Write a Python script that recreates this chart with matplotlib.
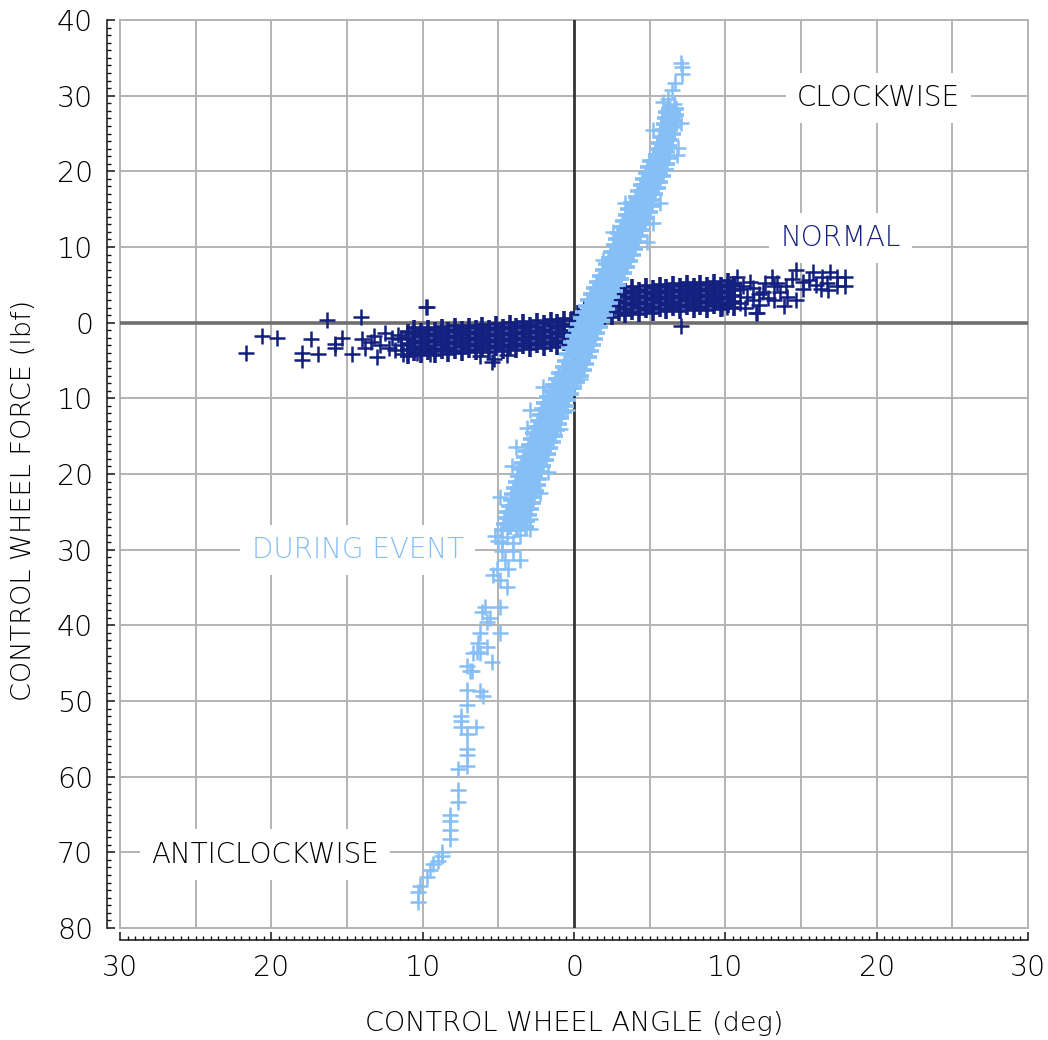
import matplotlib
matplotlib.use('Agg')
import matplotlib.pyplot as plt
from matplotlib.ticker import MultipleLocator, FuncFormatter

# ---------------- data ----------------
# "DURING EVENT" series: dense band, listed as rows of force with two angle readings per row
blue_f = [-27.4, -27.0, -26.6, -26.2, -25.8, -25.4, -25.0, -24.6, -24.2, -23.8,
          -23.4, -23.0, -22.6, -22.2, -21.8, -21.4, -21.0, -20.6, -20.2, -19.8,
          -19.4, -19.0, -18.6, -18.2, -17.8, -17.4, -17.0, -16.6, -16.2, -15.8,
          -15.4, -15.0, -14.6, -14.2, -13.8, -13.4, -13.0, -12.6, -12.2, -11.8,
          -11.4, -11.0, -10.6, -10.2, -9.8, -9.4, -9.0, -8.6, -8.2, -7.8,
          -7.4, -7.0, -6.6, -6.2, -5.8, -5.4, -5.0, -4.6, -4.2, -3.8,
          -3.4, -3.0, -2.6, -2.2, -1.8, -1.4, -1.0, -0.6, -0.2, 0.2,
          0.6, 1.0, 1.4, 1.8, 2.2, 2.6, 3.0, 3.4, 3.8, 4.2,
          4.6, 5.0, 5.4, 5.8, 6.2, 6.6, 7.0, 7.4, 7.8, 8.2,
          8.6, 9.0, 9.4, 9.8, 10.2, 10.6, 11.0, 11.4, 11.8, 12.2,
          12.6, 13.0, 13.4, 13.8, 14.2, 14.6, 15.0, 15.4, 15.8, 16.2,
          16.6, 17.0, 17.4, 17.8, 18.2, 18.6, 19.0, 19.4, 19.8, 20.2,
          20.6, 21.0, 21.4, 21.8, 22.2, 22.6, 23.0, 23.4, 23.8, 24.2,
          24.6, 25.0, 25.4, 25.8, 26.2, 26.6, 27.0, 27.4, 27.8, 28.2]
blue_xl = [-4.76, -4.20, -4.64, -4.09, -4.53, -3.97, -4.41, -3.86, -4.30, -3.74,
           -4.19, -3.63, -4.07, -3.51, -3.96, -3.40, -3.84, -3.29, -3.73, -3.16,
           -3.59, -3.02, -3.44, -2.87, -3.29, -2.72, -3.15, -2.57, -3.00, -2.42,
           -2.85, -2.28, -2.70, -2.13, -2.55, -1.98, -2.41, -1.83, -2.26, -1.68,
           -2.11, -1.54, -1.96, -1.39, -1.80, -1.19, -1.59, -0.98, -1.38, -0.77,
           -1.17, -0.56, -0.96, -0.35, -0.75, -0.18, -0.61, -0.04, -0.47, 0.11,
           -0.32, 0.25, -0.18, 0.39, -0.04, 0.53, 0.11, 0.70, 0.28, 0.86,
           0.45, 1.03, 0.61, 1.19, 0.78, 1.36, 0.94, 1.53, 1.11, 1.70,
           1.30, 1.91, 1.51, 2.11, 1.71, 2.32, 1.92, 2.52, 2.12, 2.72,
           2.31, 2.89, 2.47, 3.05, 2.62, 3.20, 2.78, 3.36, 2.94, 3.52,
           3.10, 3.68, 3.25, 3.83, 3.41, 3.99, 3.57, 4.16, 3.75, 4.38,
           4.07, 4.56, 4.24, 4.73, 4.42, 4.90, 4.59, 5.08, 4.76, 5.25,
           4.91, 5.37, 5.03, 5.49, 5.40, 5.69, 5.52, 5.81, 5.64, 5.93,
           5.76, 6.05, 5.88, 6.17, 5.97, 6.22, 6.01, 6.26, 6.05, 6.30]
blue_xr = [-3.76, -3.20, -3.64, -3.09, -3.53, -2.97, -3.41, -2.86, -3.30, -2.74,
           -3.19, -2.63, -3.07, -2.51, -2.96, -2.40, -2.84, -2.29, -2.73, -2.16,
           -2.59, -2.02, -2.44, -1.87, -2.29, -1.72, -2.15, -1.57, -2.00, -1.42,
           -1.85, -1.28, -1.70, -1.13, -1.55, -0.98, -1.41, -0.83, -1.26, -0.68,
           -1.11, -0.54, -0.96, -0.39, -0.80, -0.19, -0.59, 0.02, -0.38, 0.23,
           -0.17, 0.44, 0.04, 0.65, 0.25, 0.82, 0.39, 0.96, 0.53, 1.11,
           0.68, 1.25, 0.82, 1.39, 0.96, 1.53, 1.11, 1.70, 1.28, 1.86,
           1.45, 2.03, 1.61, 2.19, 1.78, 2.36, 1.94, 2.53, 2.11, 2.70,
           2.30, 2.91, 2.51, 3.11, 2.71, 3.32, 2.92, 3.52, 3.12, 3.72,
           3.31, 3.89, 3.47, 4.05, 3.62, 4.20, 3.78, 4.36, 3.94, 4.52,
           4.10, 4.68, 4.25, 4.83, 4.41, 4.99, 4.57, 5.16, 4.75, 5.18,
           4.87, 5.36, 5.04, 5.53, 5.22, 5.70, 5.39, 5.88, 5.56, 6.05,
           5.71, 6.17, 5.83, 6.29, 5.87, 6.16, 5.99, 6.28, 6.11, 6.40,
           6.23, 6.52, 6.35, 6.64, 6.44, 6.69, 6.48, 6.73, 6.52, 6.77]
# "DURING EVENT" scattered points (tails and edge outliers)
blue_sx = [-5.2, -4.4, -3.6, -5.0, -4.76, -4.03, -4.76, -4.03, -4.56, -3.57,
           -5.09, -4.36, -5.35, -4.9, -4.43, -4.9, -5.88, -6.08, -5.55, -5.75,
           -4.9, -6.2, -6.35, -5.75, -6.67, -6.2, -5.42, -7.07, -6.74, -6.9,
           -6.4, -7.07, -6.2, -6.0, -7.07, -7.5, -7.5, -7.5, -6.5, -7.07,
           -7.07, -7.07, -7.07, -7.67, -7.67, -7.67, -8.2, -8.2, -8.2, -8.2,
           -8.72, -8.72, -9.0, -9.3, -9.5, -9.7, -10.2, -10.3, -10.3,
           7.1, 7.14, 7.14, 6.7, 6.5, 6.2, 5.9, 6.6, 7.1, 6.9,
           6.8, 5.7, 5.2, 4.8, 2.6, 1.9, 3.4, 5.2,
           -2.05, -2.9, -3.1, -3.8, -4.1, -4.9, 0.4, -0.46, -0.9, -1.7,
           -2.25, -2.9, -2.9]
blue_sf = [-28.2, -28.3, -28.0, -28.8, -29.1, -29.1, -30.2, -30.2, -31.3, -31.3,
           -32.6, -32.6, -33.3, -34.0, -34.9, -37.6, -37.6, -38.3, -39.0, -39.6,
           -41.0, -41.0, -42.3, -42.8, -43.6, -43.6, -44.8, -45.4, -46.1, -46.1,
           -43.5, -48.5, -48.7, -49.4, -50.5, -52.0, -52.7, -53.4, -53.4, -54.4,
           -56.4, -57.1, -58.6, -59.0, -61.7, -63.3, -65.0, -65.9, -67.0, -68.3,
           -69.9, -70.5, -71.2, -71.6, -72.3, -73.3, -74.5, -75.3, -76.6,
           34.3, 33.8, 32.8, 31.7, 30.8, 29.5, 29.1, 28.9, 26.4, 23.1,
           22.2, 15.8, 13.2, 10.7, 12.0, 8.3, 15.8, 25.5,
           -8.5, -11.5, -13.9, -16.4, -19.0, -23.0, -7.5, -11.5, -14.1, -19.7,
           -22.5, -27.3, -26.0]

# "NORMAL" series: dense band, listed as columns of angle with five force readings each
navy_x = [-11.00, -10.55, -10.10, -9.65, -9.20, -8.75, -8.30, -7.85, -7.40, -6.95,
          -6.50, -6.05, -5.60, -5.15, -4.70, -4.25, -3.80, -3.35, -2.90, -2.45,
          -2.00, -1.55, -1.10, -0.65, -0.20, 0.25, 0.70, 1.15, 1.60, 2.05,
          2.50, 2.95, 3.40, 3.85, 4.30, 4.75, 5.20, 5.65, 6.10, 6.55,
          7.00, 7.45, 7.90, 8.35, 8.80, 9.25, 9.70, 10.15, 10.60]
navy_f1 = [-4.40, -3.96, -4.31, -3.87, -4.22, -3.77, -4.13, -3.68, -4.04, -3.59,
           -3.94, -3.50, -3.85, -3.41, -3.74, -3.26, -3.59, -3.12, -3.45, -2.98,
           -3.31, -2.84, -3.16, -2.68, -2.89, -1.98, -1.61, -0.44, -0.08, 1.02,
           0.75, 1.29, 0.98, 1.47, 1.16, 1.65, 1.33, 1.82, 1.51, 1.97,
           1.60, 2.04, 1.67, 2.10, 1.74, 2.17, 1.81, 2.29, 1.97]
navy_f2 = [-3.60, -3.16, -3.51, -3.07, -3.42, -2.97, -3.33, -2.88, -3.24, -2.79,
           -3.14, -2.70, -3.05, -2.61, -2.94, -2.46, -2.79, -2.32, -2.65, -2.18,
           -2.51, -2.04, -2.36, -1.88, -2.09, -1.18, -0.81, 0.36, 0.72, 1.82,
           1.55, 2.09, 1.78, 2.27, 1.96, 2.45, 2.13, 2.62, 2.31, 2.77,
           2.40, 2.84, 2.47, 2.90, 2.54, 2.97, 2.61, 3.09, 2.77]
navy_f3 = [-2.80, -2.36, -2.71, -2.27, -2.62, -2.17, -2.53, -2.08, -2.44, -1.99,
           -2.34, -1.90, -2.25, -1.81, -2.14, -1.66, -1.99, -1.52, -1.85, -1.38,
           -1.71, -1.24, -1.56, -1.08, -1.29, -0.38, -0.01, 1.16, 1.52, 2.62,
           2.35, 2.89, 2.58, 3.07, 2.76, 3.25, 2.93, 3.42, 3.11, 3.57,
           3.20, 3.64, 3.27, 3.70, 3.34, 3.77, 3.41, 3.89, 3.57]
navy_f4 = [-2.00, -1.56, -1.91, -1.47, -1.82, -1.37, -1.73, -1.28, -1.64, -1.19,
           -1.54, -1.10, -1.45, -1.01, -1.34, -0.86, -1.19, -0.72, -1.05, -0.58,
           -0.91, -0.44, -0.76, -0.28, -0.49, 0.42, 0.79, 1.96, 2.32, 3.42,
           3.15, 3.69, 3.38, 3.87, 3.56, 4.05, 3.73, 4.22, 3.91, 4.37,
           4.00, 4.44, 4.07, 4.50, 4.14, 4.57, 4.21, 4.69, 4.37]
navy_f5 = [-1.20, -0.76, -1.11, -0.67, -1.02, -0.57, -0.93, -0.48, -0.84, -0.39,
           -0.74, -0.30, -0.65, -0.21, -0.54, -0.06, -0.39, 0.08, -0.25, 0.22,
           -0.11, 0.36, 0.04, 0.52, 0.31, 1.22, 1.59, 2.76, 3.12, 4.22,
           3.95, 4.49, 4.18, 4.67, 4.36, 4.85, 4.53, 5.02, 4.71, 5.17,
           4.80, 5.24, 4.87, 5.30, 4.94, 5.37, 5.01, 5.49, 5.17]
# "NORMAL" scattered points (ends of the band and outliers)
navy_sx = [-21.7, -20.6, -19.6, -18.0, -18.0, -17.4, -16.9, -16.3, -15.8, -15.3,
           -14.1, -9.8, -15.8, -14.7, -14.0, -13.4, -13.0, -12.5, -12.2, -11.4,
           -11.3, -10.7, -10.4, -9.7, -9.5, -13.8, -13.2, -12.8, -12.0, -11.8,
           -11.6, -11.4, -5.4, -5.3, -4.4, -6.2,
           7.1, 12.0, 13.6, 13.1, 14.7, 15.1, 15.8, 16.4, 16.9, 17.4,
           17.9, 17.9, 17.4, 16.7, 16.3, 15.1, 14.7, 14.1, 13.2, 13.2,
           12.6, 12.5, 11.4, 11.2, 10.8, 11.6, 10.1, 9.8, 11.0, 11.0,
           11.8, 11.8, 12.2, 12.2, 12.8, 13.4, 14.0, 14.4, 15.5, 16.0,
           16.8, 12.1, 13.9, 11.3]
navy_sf = [-4.0, -1.8, -2.0, -4.0, -4.9, -2.1, -4.2, 0.3, -2.8, -2.0,
           0.7, 2.1, -3.3, -4.2, -2.2, -2.6, -4.6, -1.3, -3.3, -2.2,
           -4.2, -1.3, -4.0, 2.1, -4.2, -3.4, -1.8, -3.0, -2.0, -3.6,
           -1.6, -3.0, -5.2, -4.8, -4.3, -4.4,
           -0.4, 1.3, 4.0, 6.1, 7.0, 5.4, 6.7, 6.1, 6.7, 6.1,
           6.1, 4.8, 4.8, 5.3, 4.4, 4.4, 3.0, 3.4, 3.0, 4.8,
           5.3, 4.0, 3.4, 4.8, 6.1, 5.4, 2.1, 2.0, 2.6, 4.4,
           3.0, 4.6, 2.4, 3.8, 3.3, 5.2, 4.9, 5.8, 5.6, 5.0,
           4.3, 1.3, 2.2, 2.0]

x_ticks = [-30, -20, -10, 0, 10, 20, 30]
y_ticks = [-80, -70, -60, -50, -40, -30, -20, -10, 0, 10, 20, 30, 40]
annotations = [
    (20.1, 29.7, 'CLOCKWISE', '#000000'),
    (17.6, 11.2, 'NORMAL', '#13207f'),
    (-14.3, -30.0, 'DURING EVENT', '#86bff6'),
    (-20.4, -70.3, 'ANTICLOCKWISE', '#000000'),
]

# ---------------- figure ----------------
NAVY = '#13207f'
LIGHT = '#86bff6'
GRID = '#b3b3b3'
INK = '#000000'
plt.rcParams['font.family'] = ['DejaVu Sans']

W, H = 1048, 1040
fig = plt.figure(figsize=(W / 100, H / 100), dpi=100)
ax = fig.add_axes([120 / W, 1 - 928 / H, 908 / W, 908 / H])
ax.set_xlim(-30, 30)
ax.set_ylim(-80, 40)

for gx in range(-30, 31, 5):
    if gx != 0:
        ax.axvline(gx, color=GRID, lw=1.4, zorder=0.5, clip_on=False)
for gy in range(-80, 41, 10):
    if gy != 0:
        ax.axhline(gy, color=GRID, lw=1.4, zorder=0.5, clip_on=False)
ax.axhline(0, color='#6e6e6e', lw=2.6, zorder=1)
ax.axvline(0, color='#333333', lw=2.0, zorder=1)

for sp in ('top', 'right'):
    ax.spines[sp].set_visible(False)
ax.spines['left'].set_position(('outward', 9.4))
ax.spines['bottom'].set_position(('outward', 8.6))
for sp in ('left', 'bottom'):
    ax.spines[sp].set_color('#111111')
    ax.spines[sp].set_linewidth(1.1)

ax.set_xticks(x_ticks)
ax.set_yticks(y_ticks)
ax.xaxis.set_minor_locator(MultipleLocator(0.5))
ax.yaxis.set_minor_locator(MultipleLocator(1))
fmt = FuncFormatter(lambda v, p: f'{abs(v):.0f}')
ax.xaxis.set_major_formatter(fmt)
ax.yaxis.set_major_formatter(fmt)
ax.tick_params(which='major', direction='in', length=5.5, width=1.1,
               labelsize=20.5, pad=10, colors='#111111')
ax.tick_params(which='minor', direction='in', length=2.6, width=1.0, colors='#111111')
for lab in ax.get_xticklabels() + ax.get_yticklabels():
    lab.set_color(INK)
    lab.set_fontweight('light')

# data
dense = dict(linestyle='none', marker='+', markersize=12, markeredgewidth=2.6)
sparse = dict(linestyle='none', marker='+', markersize=12, markeredgewidth=1.8)
for fl in (navy_f1, navy_f2, navy_f3, navy_f4, navy_f5):
    ax.plot(navy_x, fl, color=NAVY, zorder=3, **dense)
ax.plot(navy_sx, navy_sf, color=NAVY, zorder=3, **sparse)
ax.plot(blue_xl, blue_f, color=LIGHT, zorder=4, **dense)
ax.plot(blue_xr, blue_f, color=LIGHT, zorder=4, **dense)
ax.plot(blue_sx, blue_sf, color=LIGHT, zorder=4, **sparse)

for x, y, s, c in annotations:
    ax.text(x, y, s, ha='center', va='center', fontsize=20, color=c, zorder=2,
            fontweight='light',
            bbox=dict(boxstyle='square,pad=0.4', fc='white', ec='none'))

fig.text(574 / W, 1 - 1024 / H, 'CONTROL WHEEL ANGLE (deg)', ha='center', va='center',
         fontsize=19.5, color=INK, fontweight='light')
fig.text(24 / W, 1 - 500 / H, 'CONTROL WHEEL FORCE (lbf)', ha='center', va='center',
         fontsize=19.5, color=INK, rotation=90, fontweight='light')

fig.savefig('out.png', dpi=100, facecolor='white')
